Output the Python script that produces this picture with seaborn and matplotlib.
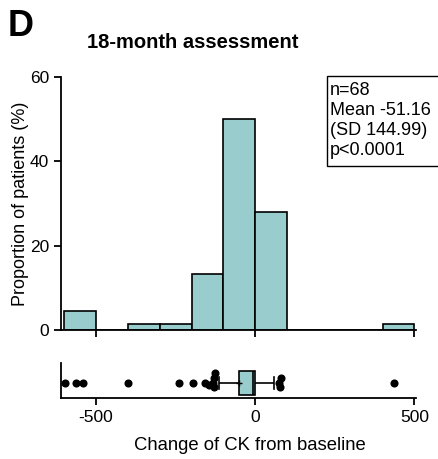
import numpy as np
import pandas as pd
import seaborn as sb
import matplotlib.pyplot as plt
from matplotlib.patches import Rectangle

#%% Data: change of CK from baseline at 18 months, one value per patient (n=68)
low_tail = [-598, -563, -541, -398, -239, -195, -157, -145, -132, -130, -128, -127, -115, -108]
near_zero_neg = [-95, -80, -55, -48, -45, -42, -40, -37, -35, -32, -30, -28, -25, -22, -20, -18,
                 -15, -13, -11, -9, -7, -7, -6, -5, -5, -4, -4, -3, -3, -2, -2, -1, -1, -1]
near_zero_pos = [0, 0, 0, 0, 2, 5, 8, 10, 12, 15, 20, 25, 30, 40, 50, 60, 75, 78, 82]
high_tail = [435]
bin_edges = [-600, -500, -400, -300, -200, -100, 0, 100, 200, 300, 400, 500]
x_ticks = [-500, 0, 500]
y_ticks = [0, 20, 40, 60]
stats_text = "n=68\nMean -51.16\n(SD 144.99)\np<0.0001"

change = np.array(low_tail + near_zero_neg + near_zero_pos + high_tail)
df = pd.DataFrame({'change': change})

#%% Style
plt.rcParams['font.family'] = ['Liberation Sans', 'DejaVu Sans']
plt.rcParams['axes.linewidth'] = 1.3
plt.rcParams['axes.unicode_minus'] = False
teal = '#99CCCC'

fig = plt.figure(figsize=(4.38, 4.59), dpi=100)
ax1 = fig.add_axes([61/438, 1-330/459, 355/438, 253/459])
ax2 = fig.add_axes([61/438, 1-398/459, 355/438, 35/459])

#%% Histogram
sb.histplot(data=df, x='change', bins=bin_edges, stat='percent', color=teal,
            edgecolor='black', linewidth=1.2, alpha=1, ax=ax1)
ax1.set_xlim(-610, 505)
ax1.set_ylim(0, 60)
ax1.set_xticks(x_ticks)
ax1.set_xticklabels([])
ax1.set_yticks(y_ticks)
ax1.tick_params(axis='both', length=5, width=1.3, labelsize=12.5, direction='out')
ax1.set_xlabel('')
ax1.set_ylabel('Proportion of patients (%)', fontsize=13, labelpad=0.5)
for s in ['top', 'right']:
    ax1.spines[s].set_visible(False)

#%% Box plot with outliers
q1, q3 = np.percentile(change, [25, 75])
iqr = q3 - q1
outliers = change[(change < q1 - 1.5*iqr) | (change > q3 + 1.5*iqr)]

sb.boxplot(x=change, ax=ax2, whis=1.5, showfliers=False, showmeans=True, width=0.55,
           color=teal, linecolor='black', linewidth=1.2, saturation=1,
           meanprops={'marker': '+', 'markeredgecolor': 'black', 'markersize': 5})
sb.swarmplot(x=outliers, ax=ax2, color='black', size=3.3)
ax2.set_xlim(-610, 505)
ax2.set_ylim(0.35, -0.45)
ax2.set_yticks([])
ax2.set_xticks(x_ticks)
ax2.tick_params(axis='x', length=5, width=1.3, labelsize=12.5, direction='out')
ax2.set_xlabel('Change of CK from baseline', fontsize=13.3)
ax2.xaxis.set_label_coords(0.531, -1.1)
for s in ['top', 'right']:
    ax2.spines[s].set_visible(False)

# lay the swarm out with small markers (points overlap like the original), then freeze and enlarge
fig.canvas.draw()
pts = ax2.collections[-1]
if 'draw' in pts.__dict__:
    del pts.draw
pts.set_sizes([34])

#%% Annotations
fig.text(8/438, 1-9/459, 'D', fontsize=26, fontweight='bold', va='top', ha='left')
fig.text(193/438, 1-43/459, '18-month assessment', fontsize=14.5, fontweight='bold',
         va='center', ha='center')
fig.patches.append(Rectangle((327/438, 1-166/459), 120/438, 90/459, transform=fig.transFigure,
                             facecolor='white', edgecolor='black', linewidth=1.0))
fig.text(330/438, 1-82/459, stats_text, fontsize=13, va='top', ha='left', linespacing=1.22)

fig.savefig('out.png', dpi=100)
